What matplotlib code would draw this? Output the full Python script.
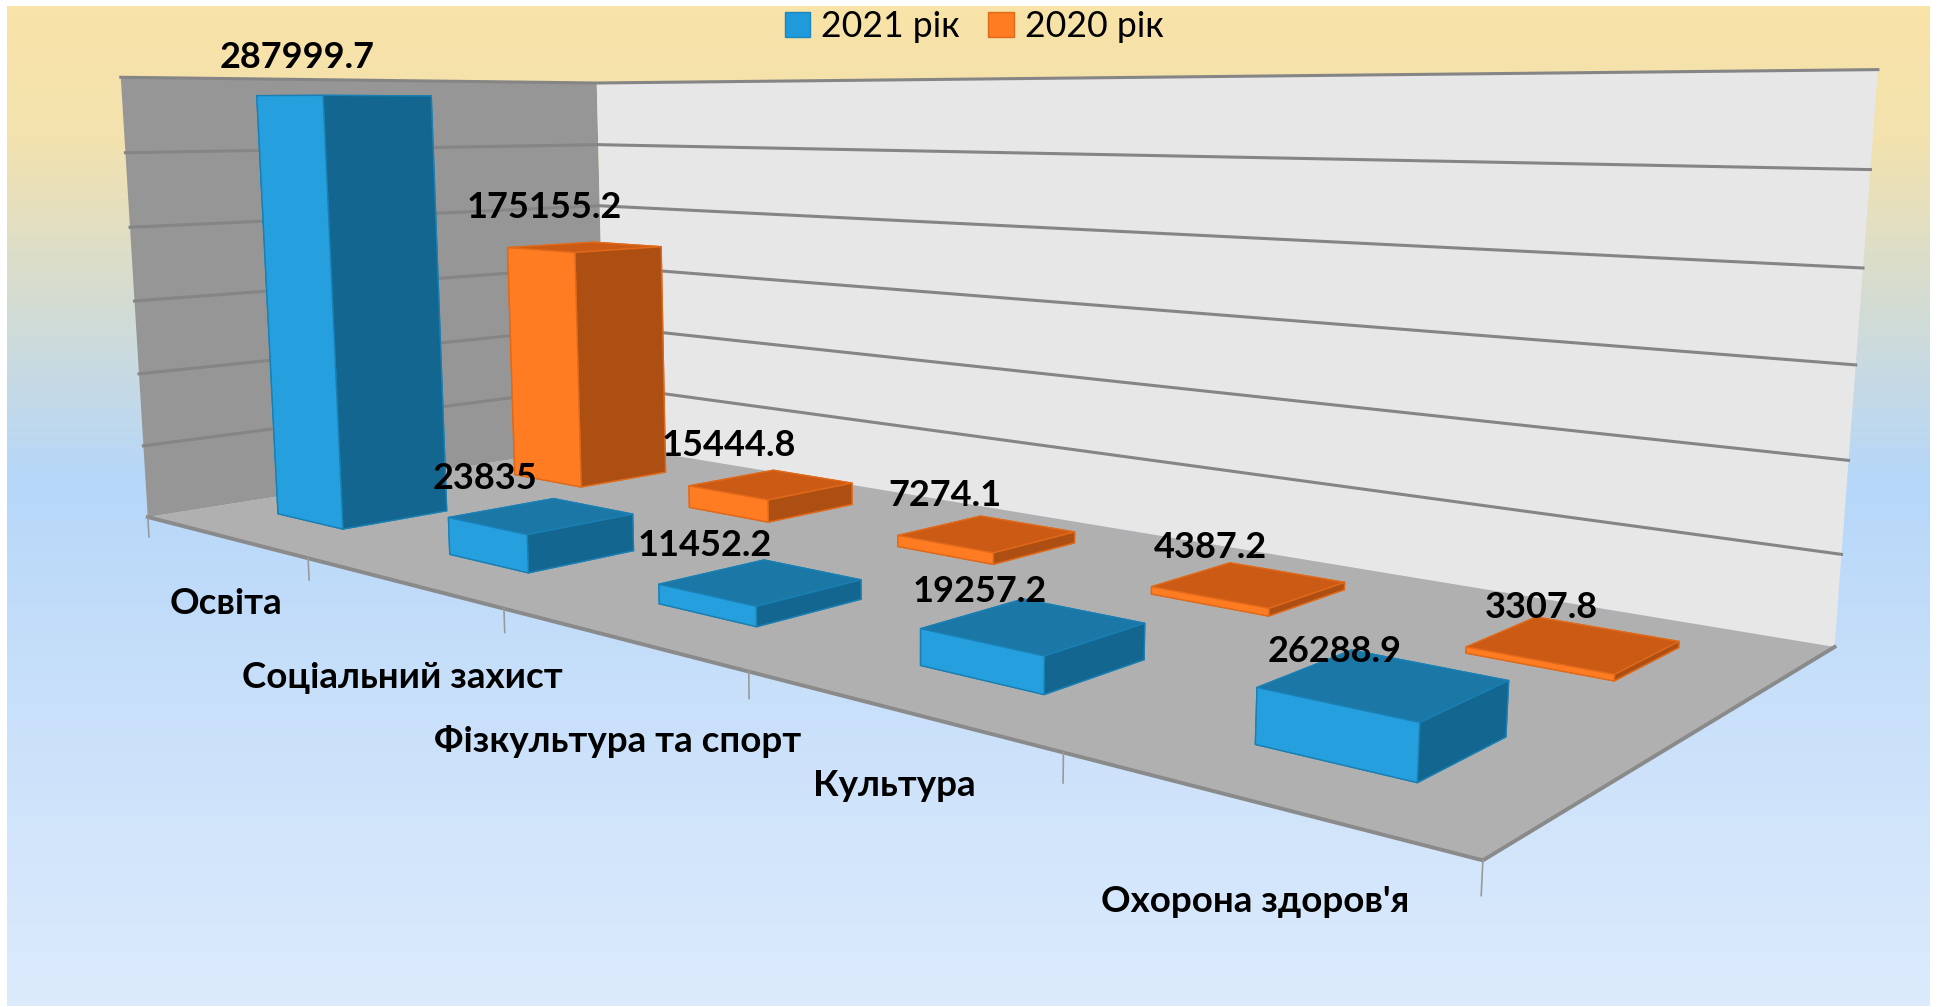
#!/usr/bin/env python3
import numpy as np
import matplotlib
matplotlib.use('Agg')
import matplotlib.pyplot as plt
from matplotlib.colors import LinearSegmentedColormap
from matplotlib.patches import Patch
from mpl_toolkits.mplot3d.art3d import Poly3DCollection

plt.rcParams['font.family'] = ['Lato', 'Noto Sans', 'DejaVu Sans']

W, H = 1938, 1007
ZMAX = 300000

categories = ['Освіта', 'Соціальний захист', 'Фізкультура та спорт', 'Культура', "Охорона здоров'я"]
values_2021 = [287999.7, 23835, 11452.2, 19257.2, 26288.9]
values_2020 = [175155.2, 15444.8, 7274.1, 4387.2, 3307.8]
z_ticks = [0, 50000, 100000, 150000, 200000, 250000, 300000]

# box corners and ticks against where they sit in the picture
cal_world = [(0, 0, 0), (1, 0, 0), (2, 0, 0), (3, 0, 0), (4, 0, 0), (5, 0, 0),
             (0, 2, 0), (5, 2, 0), (0, 0, 1), (0, 2, 1), (5, 2, 1)]
cal_pix = [(151, 515), (309, 557), (505, 610), (748, 673), (1063, 753), (1482, 862),
           (601, 446), (1837, 644), (117, 77), (601, 83), (1876, 70)]

# label centres in picture pixels
labels_2021_pos = [(297, 58), (485, 479), (705, 546), (980, 592), (1335, 651)]
labels_2020_pos = [(544, 208), (729, 445), (945, 496), (1210, 547), (1541, 608)]
category_pos = [(226, 603), (402, 678), (618, 741), (894, 785), (1255, 901)]


def fit_camera(world, pix):
    rows = []
    for (x, y, z), (u, v) in zip(world, pix):
        u, v = u / 1000, v / 1000
        rows.append([x, y, z, 1, 0, 0, 0, 0, -u*x, -u*y, -u*z, -u])
        rows.append([0, 0, 0, 0, x, y, z, 1, -v*x, -v*y, -v*z, -v])
    P = np.linalg.svd(np.array(rows))[2][-1].reshape(3, 4)
    P = np.diag([1000, 1000, 1]) @ P @ np.diag([1, 1, 1 / ZMAX, 1])
    w = P[2] @ np.array([2.5, 1, ZMAX / 2, 1])
    return P / w


P = fit_camera(cal_world, cal_pix)

fig = plt.figure(figsize=(W / 100, H / 100), dpi=100)

bg = LinearSegmentedColormap.from_list('bg', [(0, '#f8e3a8'), (0.13, '#f3e2ae'), (0.3, '#d3dcd4'),
                                              (0.47, '#b6d7f9'), (0.7, '#c9e0fa'), (1, '#dcebfc')])
ax_bg = fig.add_axes([7 / W, 1 / H, (1930 - 7) / W, (1001 - 1) / H])
ax_bg.imshow(np.linspace(0, 1, 256)[:, None], aspect='auto', cmap=bg)
ax_bg.axis('off')

ax = fig.add_axes([0, 0, 1, 1], projection='3d')
ax.patch.set_alpha(0)
ax.set_axis_off()
ax.computed_zorder = False
ax.apply_aspect = lambda position=None: None


def get_proj():
    flip = np.array([[1, 0, 0], [0, -1, H], [0, 0, 1]], dtype=float)
    Q = ax.transData.inverted().get_affine().get_matrix() @ flip @ P
    return np.array([Q[0], Q[1], [0, 0, 0, -1], Q[2]])


ax.get_proj = get_proj

# walls and floor
ax.add_collection3d(Poly3DCollection([[(0, 0, 0), (0, 2, 0), (0, 2, ZMAX), (0, 0, ZMAX)]],
                                     facecolor='#969696', edgecolor='none', zorder=1))
ax.add_collection3d(Poly3DCollection([[(0, 2, 0), (5, 2, 0), (5, 2, ZMAX), (0, 2, ZMAX)]],
                                     facecolor='#e7e7e7', edgecolor='none', zorder=1))
ax.add_collection3d(Poly3DCollection([[(0, 0, 0), (5, 0, 0), (5, 2, 0), (0, 2, 0)]],
                                     facecolor='#b0b0b0', edgecolor='none', zorder=1))
for z in z_ticks:
    if z > 0:
        ax.plot([0, 0, 5], [0, 2, 2], [z, z, z], color='#858585', lw=2.2, zorder=2)
ax.plot([0, 5, 5], [0, 0, 2], [0, 0, 0], color='#8a8a8a', lw=2.8, zorder=2)
for i in range(6):
    ax.plot([i, i], [0, 0], [0, -14000], color='#9a9a9a', lw=1.2, zorder=2)

blue = ['#1a77a6', '#1a77a6', '#259fdd', '#13668f', '#13668f', '#13668f']
orange = ['#cb5a15', '#cb5a15', '#ff7c22', '#ad4f12', '#ad4f12', '#ad4f12']
blue_edge = '#1a80b4'
orange_edge = '#e0691a'

bar_x0, bar_dx = 0.29, 0.40
bar_y0, bar_dy = 0.32, 0.41

for row, vals, cols, edge in [(1, values_2020, orange, orange_edge), (0, values_2021, blue, blue_edge)]:
    for i, v in enumerate(vals):
        c = ax.bar3d(i + bar_x0, row + bar_y0, 0, bar_dx, bar_dy, v, color=cols, shade=False,
                     edgecolor=edge, linewidth=1.0)
        c.set_zorder(3 + (1 - row) * 10 + i)

for vals, pos in [(values_2021, labels_2021_pos), (values_2020, labels_2020_pos)]:
    for v, (u, t) in zip(vals, pos):
        fig.text(u / W, 1 - t / H, str(v), ha='center', va='center', fontsize=26,
                 fontweight='bold', color='black', zorder=10)

for name, (u, t) in zip(categories, category_pos):
    fig.text(u / W, 1 - t / H, name, ha='center', va='center', fontsize=26.5,
             fontweight='bold', color='black', zorder=10)

fig.legend(handles=[Patch(facecolor='#1f9bdc', edgecolor='#1e86bb', label='2021 рік'),
                    Patch(facecolor='#ff7c22', edgecolor='#e0691a', label='2020 рік')],
           ncols=2, loc='upper center', bbox_to_anchor=(974 / W, 1 - 10 / H), frameon=False,
           borderaxespad=0, borderpad=0, fontsize=25.7, handlelength=0.72, handleheight=0.72,
           handletextpad=0.3, columnspacing=0.8)

fig.savefig('out.png', dpi=100)
